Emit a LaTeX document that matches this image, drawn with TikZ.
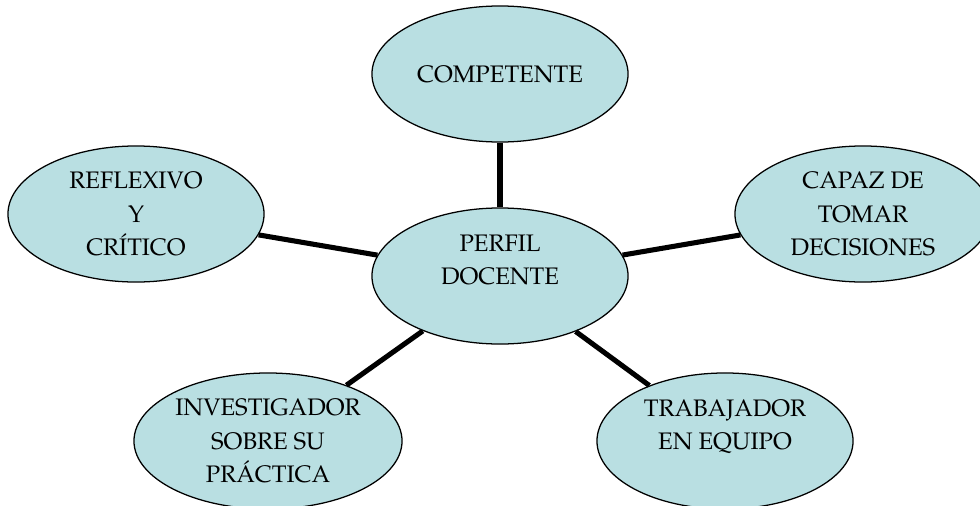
\documentclass[tikz,border=0pt]{standalone}
\usepackage[T1]{fontenc}
\renewcommand{\rmdefault}{ppl}
\usetikzlibrary{shapes.geometric}
\definecolor{celeste}{RGB}{185,223,226}

\begin{document}
\begin{tikzpicture}[x=0.025cm,y=-0.025cm,
  rasgo/.style={draw,ellipse,fill=celeste,line width=0.9pt,minimum width=6.4cm,minimum height=3.4cm,inner sep=0pt,align=center,font=\fontsize{17}{23.5}\selectfont},
  enlace/.style={line width=3.6pt}]
\useasboundingbox (0,0) rectangle (980,506);
    \node[rasgo] (perfil) at (500,276) {PERFIL\\DOCENTE\\ };
    \node[rasgo] (competente) at (500,74) {COMPETENTE};
    \node[rasgo] (reflexivo) at (136,214) {REFLEXIVO\\Y\\CR\'ITICO};
    \node[rasgo] (capaz) at (863,214) {CAPAZ DE\\TOMAR\\DECISIONES};
    \node[rasgo,minimum width=6.7cm] (investigador) at (268,441) {INVESTIGADOR\\SOBRE SU\\PR\'ACTICA};
    \node[rasgo] (trabajador) at (725,441) {TRABAJADOR\\EN EQUIPO\\ };
    % lineas al centro
    \draw[enlace] (competente) -- (perfil);
    \draw[enlace] (reflexivo) -- (perfil);
    \draw[enlace] (capaz) -- (perfil);
    \draw[enlace] (investigador) -- (perfil);
    \draw[enlace] (trabajador) -- (perfil);
\end{tikzpicture}
\end{document}
